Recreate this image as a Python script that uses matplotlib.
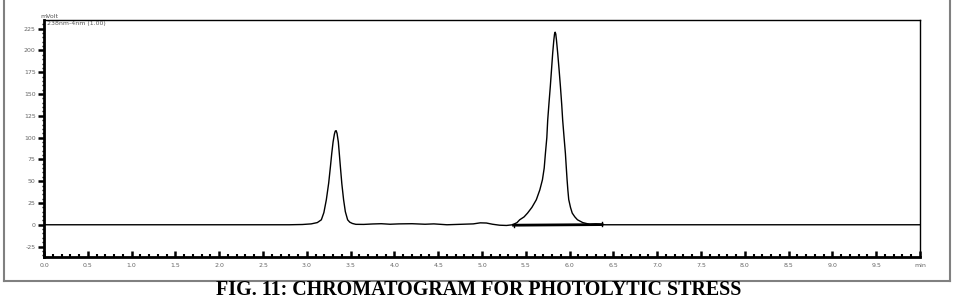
# Cromatograma - estres fotolitico
import numpy as np
import matplotlib.pyplot as plt
from matplotlib.lines import Line2D

tiempo_min = [0.0, 2.80, 2.95, 3.05, 3.12, 3.166, 3.195, 3.223, 3.25, 3.27, 3.285, 3.30,
              3.315, 3.325, 3.335, 3.345, 3.36, 3.37, 3.383, 3.40, 3.42, 3.44, 3.466,
              3.49, 3.52, 3.56, 3.65, 3.75, 3.85, 3.95, 4.05, 4.20, 4.35, 4.45, 4.60,
              4.90, 4.98, 5.05, 5.12, 5.20, 5.28, 5.35, 5.40, 5.43, 5.48, 5.52, 5.57,
              5.62, 5.66, 5.69, 5.71, 5.724, 5.74, 5.75, 5.765, 5.78, 5.795, 5.807,
              5.82, 5.828, 5.835, 5.842, 5.85, 5.864, 5.88, 5.895, 5.91, 5.921, 5.937,
              5.952, 5.962, 5.971, 5.98, 5.99, 6.01, 6.03, 6.06, 6.09, 6.15, 6.23,
              6.30, 6.40, 10.0]
senal_mv = [0, 0, 0.3, 1.0, 2.5, 5.7, 14, 28.7, 48, 67, 82, 95,
            104, 107.5, 108, 105, 95, 83, 67, 47, 28.7, 15, 5.7,
            3.0, 1.5, 0.5, 0.4, 0.9, 1.2, 0.6, 1.0, 1.2, 0.6, 1.0, 0,
            1.0, 2.2, 2.0, 0.6, -0.5, -0.8, 0, 2.5, 5.7, 9, 13.4, 20,
            28.7, 40, 51.7, 65, 82, 100, 120, 140, 159, 180, 197,
            212, 219, 221, 219, 212, 197, 178, 159, 138, 120, 100,
            82, 66, 52, 40, 29, 20, 13.4, 9, 5.7, 2.5, 0.5,
            1.0, 0, 0]

# Linea base de integracion del segundo pico
base_t = [5.36, 6.37]
base_mv = [-0.5, 0.2]

x_ticks = np.arange(0, 10.01, 0.5)
x_labels = [f"{v:.1f}" for v in x_ticks[:-1]] + ["min"]
y_ticks = [-25, 0, 25, 50, 75, 100, 125, 150, 175, 200, 225]

fig = plt.figure(figsize=(9.58, 3.02), dpi=100)
ax = fig.add_axes([44 / 958, 1 - 257 / 302, 876 / 958, 237 / 302])

ax.plot(tiempo_min, senal_mv, color='black', lw=1.0)
ax.plot(base_t, base_mv, color='black', lw=2.0)
ax.plot([base_t[0], base_t[0]], [-3, 1], color='black', lw=1.0)
ax.plot([base_t[1], base_t[1]], [-1, 3], color='black', lw=1.0)

ax.set_xlim(0, 10)
ax.set_ylim(-37, 235)
ax.set_xticks(x_ticks)
ax.set_xticklabels(x_labels)
ax.set_xticks(np.arange(0, 10.01, 0.1), minor=True)
ax.set_yticks(y_ticks)
ax.set_yticklabels([str(v) for v in y_ticks])
ax.set_yticks(np.arange(-35, 235, 5), minor=True)

ax.tick_params(axis='x', which='major', direction='in', length=4, width=1.8,
               labelsize=4.5, labelcolor='#666666', pad=4)
ax.tick_params(axis='x', which='minor', direction='in', length=2, width=1.5)
ax.tick_params(axis='y', which='major', direction='out', length=4, width=1.8,
               labelsize=4.5, labelcolor='#666666', pad=2)
ax.tick_params(axis='y', which='minor', direction='out', length=1.5, width=1)

for lado in ['left', 'bottom']:
    ax.spines[lado].set_linewidth(2)
for lado in ['top', 'right']:
    ax.spines[lado].set_linewidth(1)

ax.text(-0.004, 1.005, "mVolt", transform=ax.transAxes, fontsize=4.5,
        color='#555555', ha='left', va='bottom')
ax.text(0.003, 0.995, "238nm-4nm (1.00)", transform=ax.transAxes, fontsize=4.5,
        color='#555555', ha='left', va='top')

# Marco exterior
gris = '#808080'
fig.add_artist(Line2D([4 / 958, 4 / 958], [1 - 281 / 302, 1.0], color=gris, lw=1.5))
fig.add_artist(Line2D([950 / 958, 950 / 958], [1 - 281 / 302, 1.0], color=gris, lw=1.5))
fig.add_artist(Line2D([4 / 958, 950 / 958], [1 - 281 / 302, 1 - 281 / 302], color=gris, lw=1.5))

fig.text(0.5, 1 - 290 / 302, "FIG. 11: CHROMATOGRAM FOR PHOTOLYTIC STRESS",
         ha='center', va='center', fontsize=14.4, fontweight='bold',
         family='Liberation Serif')

fig.savefig("out.png", dpi=100)
